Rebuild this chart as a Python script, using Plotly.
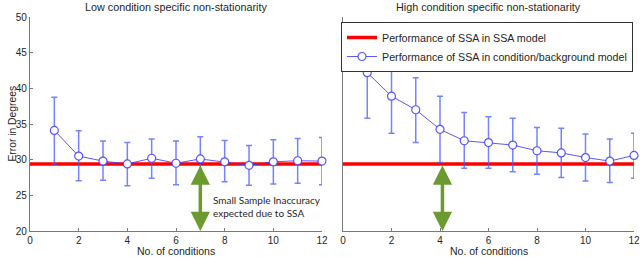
import plotly.graph_objects as go

# ---------------- data ----------------
conditions = [1, 2, 3, 4, 5, 6, 7, 8, 9, 10, 11, 12]
ssa_level = 29.4

low_mean = [34.1, 30.5, 29.8, 29.4, 30.2, 29.5, 30.1, 29.7, 29.2, 29.7, 29.85, 29.8]
low_upper = [38.75, 34.05, 32.6, 32.4, 32.9, 32.6, 33.2, 32.7, 32.0, 32.8, 32.95, 33.1]
low_lower = [29.4, 27.05, 27.1, 26.35, 27.4, 26.5, 27.0, 26.9, 26.4, 26.6, 26.7, 26.5]

high_mean = [42.2, 38.9, 37.0, 34.25, 32.65, 32.4, 32.05, 31.25, 30.95, 30.3, 29.8, 30.6]
high_upper = [48.6, 44.2, 41.5, 38.9, 36.6, 36.0, 35.8, 34.5, 34.4, 33.6, 32.9, 33.7]
high_lower = [35.8, 33.7, 32.4, 29.6, 28.8, 28.8, 28.3, 27.95, 27.5, 27.0, 26.8, 27.4]

x_ticks = [0, 2, 4, 6, 8, 10, 12]
y_ticks = [20, 25, 30, 35, 40, 45, 50]
x_range = [0, 12]
y_range = [20, 50]

titles = ["Low condition specific non-stationarity", "High condition specific non-stationarity"]
legend_names = ["Performance of SSA in SSA model", "Performance of SSA in condition/background model"]
arrow_x = [7, 4.1]
note_text = "Small Sample Inaccuracy<br>expected due to SSA"
note_pos = (7.45, 23.5)

# ---------------- styling ----------------
FONT = "Liberation Sans"
TXT = "#262626"
AX = "#7a7a7a"
BLUE = "rgba(60,60,255,0.85)"
EBLUE = "rgba(70,90,255,0.75)"
RED = "#ff0000"
GREEN = "#6b9a2f"

fig = go.Figure()

panels = [
    ("x", "y", low_mean, low_upper, low_lower),
    ("x2", "y2", high_mean, high_upper, high_lower),
]

for i, (xa, ya, mean, up, lo) in enumerate(panels):
    fig.add_trace(go.Scatter(
        x=x_range, y=[ssa_level, ssa_level], mode="lines",
        line=dict(color=RED, width=3.5), name=legend_names[0],
        showlegend=(i == 1), xaxis=xa, yaxis=ya, cliponaxis=False))
for i, (xa, ya, mean, up, lo) in enumerate(panels):
    fig.add_trace(go.Scatter(
        x=conditions, y=mean, mode="lines+markers",
        line=dict(color=BLUE, width=1),
        marker=dict(symbol="circle", size=8, color="white",
                    line=dict(color=BLUE, width=1.2)),
        error_y=dict(type="data", symmetric=False,
                     array=[u - m for u, m in zip(up, mean)],
                     arrayminus=[m - l for m, l in zip(mean, lo)],
                     color=EBLUE, thickness=1.5, width=3),
        name=legend_names[1], showlegend=(i == 1),
        xaxis=xa, yaxis=ya, cliponaxis=False))

axis_common = dict(
    showgrid=False, zeroline=False, showline=True, linecolor=AX, linewidth=1.2,
    ticklen=3, tickcolor=AX, tickwidth=1, automargin=False,
    tickfont=dict(family=FONT, size=10, color=TXT), mirror=False,
)

fig.update_layout(
    width=640, height=257,
    margin=dict(l=0, r=0, t=0, b=0, pad=0, autoexpand=False),
    paper_bgcolor="white", plot_bgcolor="white",
    font=dict(family=FONT, size=10, color=TXT),
    xaxis=dict(domain=[30 / 640, 322 / 640], range=x_range, tickvals=x_ticks,
               anchor="y", ticks="inside", **axis_common),
    yaxis=dict(domain=[26 / 257, 240 / 257], range=y_range, tickvals=y_ticks,
               anchor="x", ticks="inside", **axis_common),
    xaxis2=dict(domain=[343 / 640, 634 / 640], range=x_range, tickvals=x_ticks,
                anchor="y2", ticks="inside", **axis_common),
    yaxis2=dict(domain=[26 / 257, 240 / 257], range=y_range, tickvals=y_ticks,
                showticklabels=False, anchor="x2", ticks="", **axis_common),
    legend=dict(x=341 / 640, y=1 - 22 / 257, xanchor="left", yanchor="top",
                bgcolor="white", bordercolor="#333333", borderwidth=1,
                font=dict(family=FONT, size=10.7, color=TXT),
                tracegroupgap=0, itemwidth=30),
    showlegend=True,
)

annots = []
for i, t in enumerate(titles):
    xa = "x domain" if i == 0 else "x2 domain"
    annots.append(dict(text=t, xref=xa, yref="paper", x=0.5, y=1 + 1 / 257,
                       xanchor="center", yanchor="top", showarrow=False,
                       font=dict(family=FONT, size=10.8, color=TXT)))
    annots.append(dict(text="No. of conditions", xref=xa, yref="paper", x=0.5,
                       y=-2 / 257, xanchor="center", yanchor="bottom", showarrow=False,
                       font=dict(family=FONT, size=10.5, color=TXT)))
annots.append(dict(text="Error in Degrees", xref="paper", yref="y domain", x=4 / 640,
                   y=0.5, xanchor="left", yanchor="middle", textangle=-90,
                   showarrow=False, font=dict(family=FONT, size=10.3, color=TXT)))
for i, ax_x in enumerate(arrow_x):
    xr, yr = ("x", "y") if i == 0 else ("x2", "y2")
    annots.append(dict(x=ax_x, y=y_range[0], ax=ax_x, ay=ssa_level, xref=xr, yref=yr,
                       axref=xr, ayref=yr, text="", showarrow=True,
                       arrowhead=2, startarrowhead=2, arrowside="end+start",
                       arrowsize=1.1, startarrowsize=1.1, arrowwidth=3.5,
                       arrowcolor=GREEN))
annots.append(dict(text=note_text, x=note_pos[0], y=note_pos[1], xref="x", yref="y",
                   xanchor="left", yanchor="middle", align="left", showarrow=False,
                   font=dict(family="Lato", size=10, color=TXT)))
fig.update_layout(annotations=annots)

fig.write_html("out.html", config={"displayModeBar": False},
               post_script="document.body.style.margin='0';document.body.style.overflow='hidden';")
